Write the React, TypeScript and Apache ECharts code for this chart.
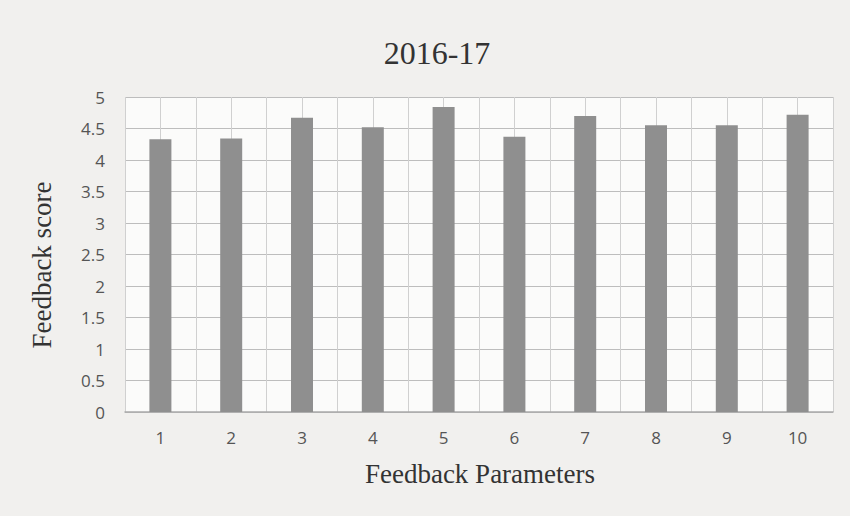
import React, { useEffect, useRef } from "react";
import * as echarts from "echarts";

const categories = ["1", "2", "3", "4", "5", "6", "7", "8", "9", "10"];
const scores = [4.33, 4.34, 4.67, 4.52, 4.84, 4.37, 4.7, 4.55, 4.55, 4.72];
const halfSlots = Array.from({ length: 20 }, (_, i) => String(i));
const chartTitle = "2016-17";
const yName = "Feedback score";
const xName = "Feedback Parameters";

export default function App() {
  const ref = useRef<HTMLDivElement>(null);
  useEffect(() => {
    document.body.style.margin = "0";
    if (!ref.current) return;
    const chart = echarts.init(ref.current, undefined, { renderer: "svg" });
    const serif = "'Liberation Serif', 'DejaVu Serif', serif";
    const sans = "'Open Sans', 'Noto Sans', sans-serif";
    chart.setOption({
      animation: false,
      backgroundColor: "#f1f0ee",
      title: {
        text: chartTitle,
        left: 432,
        top: 32,
        textAlign: "center",
        textStyle: { fontFamily: serif, fontSize: 32, fontWeight: "normal", color: "#333" },
      },
      graphic: [
        {
          type: "text",
          x: 42,
          y: 265,
          rotation: Math.PI / 2,
          style: {
            text: yName,
            font: `27px ${serif}`,
            fill: "#333",
            align: "center",
            verticalAlign: "middle",
          },
        },
        {
          type: "text",
          x: 480,
          y: 474,
          style: {
            text: xName,
            font: `27px ${serif}`,
            fill: "#333",
            align: "center",
            verticalAlign: "middle",
          },
        },
      ],
      grid: { left: 125, right: 17, top: 97, bottom: 104, backgroundColor: "#fbfbfa", show: true, borderWidth: 0 },
      xAxis: [
        {
          type: "category",
          data: categories,
          axisLine: { show: true, lineStyle: { color: "#aaaaaa", width: 1.5 } },
          axisTick: { show: false },
          axisLabel: { fontFamily: sans, fontSize: 17, color: "#555", margin: 17 },
          splitLine: { show: true, lineStyle: { color: "#c8c8c8", width: 1 } },
        },
        {
          type: "category",
          data: halfSlots,
          position: "bottom",
          axisLine: { show: false },
          axisTick: { show: false },
          axisLabel: { show: false },
          splitLine: { show: true, lineStyle: { color: "#d0d0d0", width: 1 } },
        },
      ],
      yAxis: {
        type: "value",
        min: 0,
        max: 5,
        interval: 0.5,
        axisLine: { show: false },
        axisTick: { show: false },
        axisLabel: { fontFamily: sans, fontSize: 17, color: "#555", margin: 20 },
        splitLine: { show: true, lineStyle: { color: "#bdbdbd", width: 1.2 } },
      },
      series: [
        {
          type: "bar",
          data: scores,
          barWidth: 22,
          itemStyle: { color: "#8f8f8f" },
          z: 3,
        },
      ],
    });
    return () => chart.dispose();
  }, []);
  return <div ref={ref} style={{ width: 850, height: 516 }} />;
}
